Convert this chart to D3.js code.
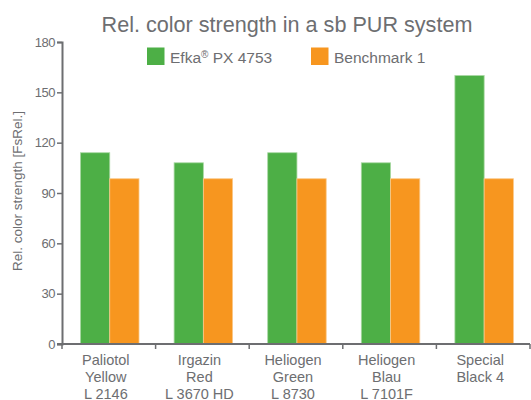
<!DOCTYPE html>
<html lang="en">
<head>
  <meta charset="UTF-8">
  <title>Rel. color strength</title>
  <style>
    body { margin: 0; background: #fff; }
    text { font-family: "Liberation Sans", Arial, sans-serif; fill: #6d6e71; }
  </style>
</head>
<body>

  <svg id="svg" width="531" height="400"></svg>

  <script src="https://cdn.jsdelivr.net/npm/d3@7"></script>
  <script>
    const categories = [
      ['Paliotol', 'Yellow', 'L 2146'],
      ['Irgazin', 'Red', 'L 3670 HD'],
      ['Heliogen', 'Green', 'L 8730'],
      ['Heliogen', 'Blau', 'L 7101F'],
      ['Special', 'Black 4']
    ];
    const seriesNames = ['Efka® PX 4753', 'Benchmark 1'];
    const efka = [114, 108, 114, 108, 160];
    const benchmark = [98.5, 98.5, 98.5, 98.5, 98.5];
    const yTicks = [0, 30, 60, 90, 120, 150, 180];
    const colors = ['#4daf46', '#f7961f'];

    const svg = d3.select('#svg');
    const mLeft = 62, mRight = 530, mTop = 42, mBottom = 344;

    const x0 = d3.scaleBand().domain(d3.range(categories.length)).range([mLeft, mRight]);
    const x1 = d3.scaleBand().domain([0, 1]).range([18.5, 77]);
    const y = d3.scaleLinear().domain([0, 180]).range([mBottom, mTop]);

    // title
    svg.append('text')
      .attr('x', 287).attr('y', 32)
      .attr('text-anchor', 'middle')
      .style('font-size', '21.6px')
      .text('Rel. color strength in a sb PUR system');

    // legend
    const legendX = [147, 311];
    seriesNames.forEach((name, i) => {
      svg.append('rect')
        .attr('x', legendX[i]).attr('y', 47.5)
        .attr('width', 17.5).attr('height', 17.5)
        .attr('fill', colors[i]);
      const t = svg.append('text')
        .attr('x', legendX[i] + 23).attr('y', 63)
        .style('font-size', '15.5px');
      if (name.includes('®')) {
        const parts = name.split('®');
        t.append('tspan').text(parts[0]);
        t.append('tspan').attr('dy', -5).style('font-size', '10px').text('®');
        t.append('tspan').attr('dy', 5).text(parts[1]);
      } else {
        t.text(name);
      }
    });

    // bars
    const rows = categories.map((c, i) => [efka[i], benchmark[i]]);
    const groups = svg.append('g').selectAll('g')
      .data(rows).enter().append('g')
      .attr('transform', (d, i) => `translate(${x0(i)},0)`);
    groups.selectAll('rect')
      .data(d => d).enter().append('rect')
      .attr('x', (d, j) => x1(j))
      .attr('y', d => y(d))
      .attr('width', x1.bandwidth())
      .attr('height', d => mBottom - y(d))
      .attr('fill', (d, j) => colors[j])
      .attr('stroke', (d, j) => j === 0 ? '#a8d8a2' : '#fbc98a')
      .attr('stroke-width', 0.8);

    // y axis
    const yAxis = svg.append('g')
      .attr('transform', `translate(${mLeft},0)`)
      .call(d3.axisLeft(y).tickValues(yTicks).tickSize(5).tickSizeOuter(5).tickPadding(2));
    yAxis.select('.domain').attr('stroke', '#6d6e71').attr('stroke-width', 2);
    yAxis.selectAll('.tick line').attr('stroke', '#6d6e71').attr('stroke-width', 1.5);
    yAxis.selectAll('.tick text')
      .style('font-size', '13px')
      .style('font-family', '"Liberation Sans", Arial, sans-serif')
      .attr('fill', '#6d6e71')
      .attr('letter-spacing', '-0.5px');

    // x axis
    const xAxis = svg.append('g')
      .attr('transform', `translate(0,${mBottom})`);
    xAxis.append('line')
      .attr('x1', mLeft - 5).attr('x2', mRight)
      .attr('stroke', '#6d6e71').attr('stroke-width', 2);
    xAxis.selectAll('line.tk')
      .data(d3.range(categories.length + 1)).enter().append('line')
      .attr('class', 'tk')
      .attr('x1', i => i < categories.length ? x0(i) : mRight)
      .attr('x2', i => i < categories.length ? x0(i) : mRight)
      .attr('y1', 0).attr('y2', 5)
      .attr('stroke', '#6d6e71').attr('stroke-width', 1.5);

    // category labels, three lines each
    const labels = svg.append('g').selectAll('text')
      .data(categories).enter().append('text')
      .attr('text-anchor', 'middle')
      .attr('transform', (d, i) => `translate(${x0(i) + x0.bandwidth() / 2 - 3},364.5)`)
      .style('font-size', '14.5px');
    labels.selectAll('tspan')
      .data(d => d).enter().append('tspan')
      .attr('x', 0)
      .attr('y', (d, j) => j * 17.2)
      .text(d => d);

    // y label
    svg.append('text')
      .attr('transform', 'translate(22,191) rotate(-90)')
      .attr('text-anchor', 'middle')
      .style('font-size', '13.5px')
      .text('Rel. color strength [FsRel.]');
  </script>
</body>
</html>
